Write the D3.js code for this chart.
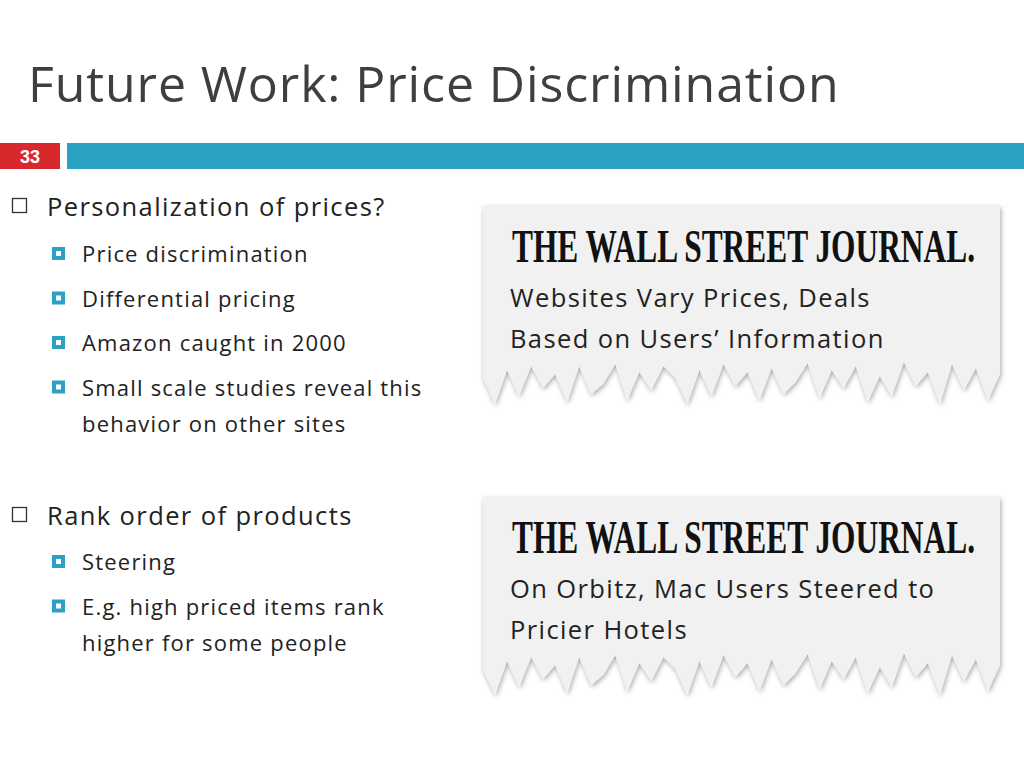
<!DOCTYPE html>
<html><head><meta charset="utf-8">
<script src="https://cdn.jsdelivr.net/npm/d3@7"></script>
<style>body{margin:0;background:#fff}svg{display:block}</style>
</head><body>
<svg id="slide" width="1024" height="768"></svg>
<script>
var titleText = "Future Work: Price Discrimination";
var slideNumber = "33";
var mainBullets = ["Personalization of prices?", "Rank order of products"];
var subBullets1 = ["Price discrimination", "Differential pricing", "Amazon caught in 2000", ["Small scale studies reveal this", "behavior on other sites"]];
var subBullets2 = ["Steering", ["E.g. high priced items rank", "higher for some people"]];
var clipHeadlines = [["Websites Vary Prices, Deals", "Based on Users\u2019 Information"], ["On Orbitz, Mac Users Steered to", "Pricier Hotels"]];
// jagged tear depths for the clipping bottom edge (hand picked)
var tearDepth = [14,40,8,30,4,44,12,26,2,36,16,42,6,28,10,38,3,22,34,8,40,12,26,4,36,10,44,18,6,30,12,40,4,24,34,6,42,14,28,6,36,10,44,18];

var svg = d3.select("#slide");
var font = "'Open Sans', sans-serif";

svg.append("text").attr("x", 28).attr("y", 102).attr("font-family", font)
  .attr("font-size", 50).attr("letter-spacing", 0.9).attr("fill", "#3f3f3f").text(titleText);

svg.append("rect").attr("x", 0).attr("y", 143).attr("width", 60).attr("height", 26).attr("fill", "#d8282d");
svg.append("text").attr("x", 30).attr("y", 163).attr("text-anchor", "middle").attr("font-family", "Liberation Sans, Arial")
  .attr("font-weight", "bold").attr("font-size", 18).attr("fill", "#fff").text(slideNumber);
svg.append("rect").attr("x", 67).attr("y", 143).attr("width", 957).attr("height", 26).attr("fill", "#2ba2c3");

function mainBullet(text, y) {
  svg.append("rect").attr("x", 12.5).attr("y", y - 17.5).attr("width", 14).attr("height", 14)
    .attr("fill", "none").attr("stroke", "#333").attr("stroke-width", 1.3);
  svg.append("text").attr("x", 47).attr("y", y).attr("font-family", font).attr("font-size", 25.5)
    .attr("letter-spacing", 1.4).attr("fill", "#222").text(text);
}
function subList(items, y0) {
  var y = y0;
  items.forEach(function (it) {
    var lines = Array.isArray(it) ? it : [it];
    svg.append("rect").attr("x", 52).attr("y", y - 15).attr("width", 13).attr("height", 13).attr("fill", "#2ba2c3");
    svg.append("rect").attr("x", 56).attr("y", y - 11).attr("width", 5).attr("height", 5).attr("fill", "#fff");
    lines.forEach(function (l, i) {
      svg.append("text").attr("x", 82).attr("y", y + i * 36).attr("font-family", font).attr("font-size", 22)
        .attr("letter-spacing", 1.2).attr("fill", "#222").text(l);
    });
    y += 44.5 + (lines.length - 1) * 36;
  });
}
mainBullet(mainBullets[0], 216);
subList(subBullets1, 262);
mainBullet(mainBullets[1], 525);
subList(subBullets2, 570);

var defs = svg.append("defs");
var f = defs.append("filter").attr("id", "sh").attr("x", "-5%").attr("y", "-5%").attr("width", "110%").attr("height", "120%");
f.append("feDropShadow").attr("dx", 1).attr("dy", 2).attr("stdDeviation", 2.5).attr("flood-color", "#000").attr("flood-opacity", 0.35);

function clipping(top, headlines) {
  var left = 483, right = 1000, bottom = top + 200;
  var x = d3.scaleLinear().domain([0, tearDepth.length - 1]).range([right, left]);
  var pts = [[left, top], [right, top], [right, bottom - 50]];
  tearDepth.forEach(function (d, i) { pts.push([x(i), bottom - 46 + d]); });
  pts.push([left, bottom - 30]);
  svg.append("path").attr("d", d3.line()(pts) + "Z").attr("fill", "#f1f1f1").attr("filter", "url(#sh)");
  svg.append("text").attr("x", 512).attr("y", top + 56).attr("font-family", "'Liberation Serif', serif")
    .attr("font-weight", "bold").attr("font-size", 46).attr("textLength", 463).attr("lengthAdjust", "spacingAndGlyphs")
    .attr("fill", "#111").text("THE WALL STREET JOURNAL.");
  headlines.forEach(function (h, i) {
    svg.append("text").attr("x", 510).attr("y", top + 101 + i * 41).attr("font-family", font)
      .attr("font-size", 25.5).attr("letter-spacing", 1.4).attr("fill", "#222").text(h);
  });
}
clipping(206, clipHeadlines[0]);
clipping(497, clipHeadlines[1]);
</script>
</body></html>
